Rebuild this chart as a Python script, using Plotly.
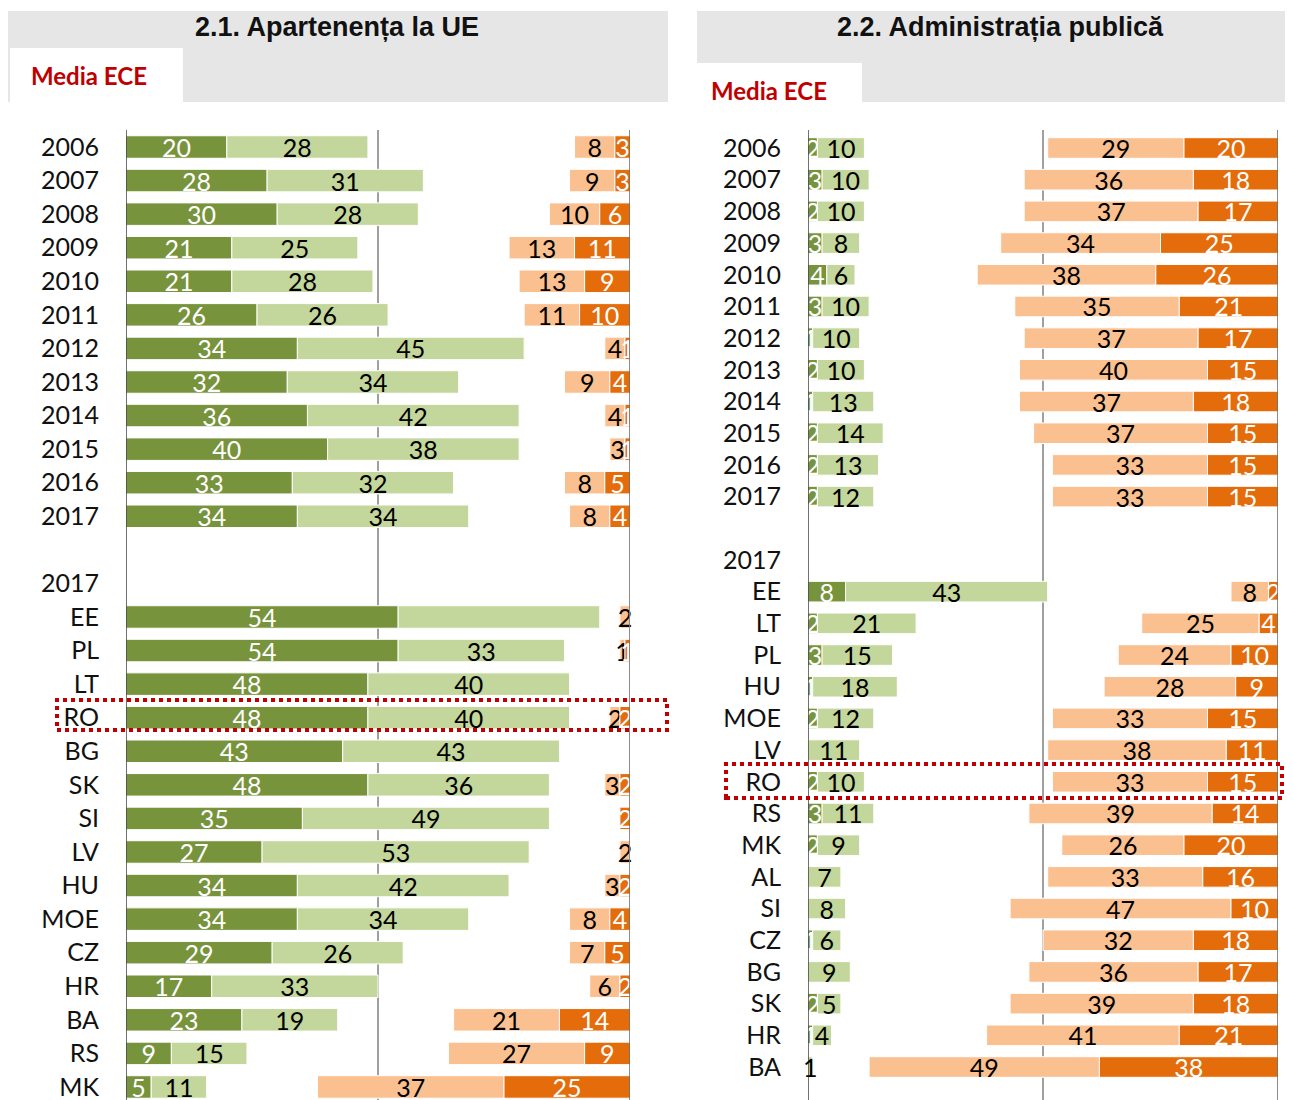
import plotly.graph_objects as go

# ---------------- DATA ----------------
years = ["2006", "2007", "2008", "2009", "2010", "2011", "2012", "2013", "2014", "2015", "2016", "2017"]
header_label = "2017"

# Panel 2.1 Apartenența la UE
L_countries = ["EE", "PL", "LT", "RO", "BG", "SK", "SI", "LV", "HU", "MOE", "CZ", "HR", "BA", "RS", "MK"]
L_dg_years = [20, 28, 30, 21, 21, 26, 34, 32, 36, 40, 33, 34]
L_lg_years = [28, 31, 28, 25, 28, 26, 45, 34, 42, 38, 32, 34]
L_lo_years = [8, 9, 10, 13, 13, 11, 4, 9, 4, 3, 8, 8]
L_do_years = [3, 3, 6, 11, 9, 10, 1, 4, 1, 1, 5, 4]
L_dg_countries = [54, 54, 48, 48, 43, 48, 35, 27, 34, 34, 29, 17, 23, 9, 5]
L_lg_countries = [40, 33, 40, 40, 43, 36, 49, 53, 42, 34, 26, 33, 19, 15, 11]
L_lo_countries = [2, 1, 0, 2, 0, 3, 0, 2, 3, 8, 7, 6, 21, 27, 37]
L_do_countries = [0, 1, 0, 2, 0, 2, 2, 0, 2, 4, 5, 2, 14, 9, 25]
L_lg_hidden_labels = ["EE"]  # label not printed in the original

# Panel 2.2 Administrația publică
R_countries = ["EE", "LT", "PL", "HU", "MOE", "LV", "RO", "RS", "MK", "AL", "SI", "CZ", "BG", "SK", "HR", "BA"]
R_dg_years = [2, 3, 2, 3, 4, 3, 1, 2, 1, 2, 2, 2]
R_lg_years = [10, 10, 10, 8, 6, 10, 10, 10, 13, 14, 13, 12]
R_lo_years = [29, 36, 37, 34, 38, 35, 37, 40, 37, 37, 33, 33]
R_do_years = [20, 18, 17, 25, 26, 21, 17, 15, 18, 15, 15, 15]
R_dg_countries = [8, 2, 3, 1, 2, 0, 2, 3, 2, 0, 0, 1, 0, 2, 1, 0]
R_lg_countries = [43, 21, 15, 18, 12, 11, 10, 11, 9, 7, 8, 6, 9, 5, 4, 1]
R_lo_countries = [8, 25, 24, 28, 33, 38, 33, 39, 26, 33, 47, 32, 36, 39, 41, 49]
R_do_countries = [2, 4, 10, 9, 15, 11, 15, 14, 20, 16, 10, 18, 17, 18, 21, 38]

titles = ["2.1. Apartenența la UE", "2.2. Administrația publică"]
subtitle = "Media ECE"

# ---------------- STYLE ----------------
W, H = 1293, 1100
OX, OY = 8, 8          # page body margin offset
C_DG, C_LG, C_LO, C_DO = "#77933c", "#c3d69b", "#fac090", "#e46c0a"
FONT = "Lato"
FS = 25
PLOT_TOP_PX = 130      # screen pixels
ydom_top = 1 - (PLOT_TOP_PX - OY) / H


def px_x(p):
    return (p - OX) / W


def px_y(p):
    return 1 - (p - OY) / H


fig = go.Figure()


def add_panel(xa, ya, cats, dg_y, lg_y, lo_y, do_y, dg_c, lg_c, lo_c, do_c, hidden_lg=(), bw=0.66):
    ypos = list(range(len(years))) + [len(years) + 2 + i for i in range(len(cats))]
    dg = dg_y + dg_c
    lg = lg_y + lg_c
    lo = lo_y + lo_c
    do = do_y + do_c
    names = years + cats
    is_country = [False] * len(years) + [True] * len(cats)

    def lab(vals, hidden=()):
        out = []
        for v, n, c in zip(vals, names, is_country):
            out.append("" if (v == 0 or (c and n in hidden)) else str(v))
        return out

    common = dict(orientation="h", xaxis=xa, yaxis=ya, textposition="inside",
                  insidetextanchor="middle", constraintext="none", textangle=0,
                  cliponaxis=False, hoverinfo="skip", showlegend=False, width=bw)
    fig.add_trace(go.Bar(y=ypos, x=dg, base=[0] * len(dg),
                         marker=dict(color=C_DG, line=dict(color="white", width=1)),
                         text=lab(dg), textfont=dict(color="white", size=FS, family=FONT), **common))
    fig.add_trace(go.Bar(y=ypos, x=lg, base=dg,
                         marker=dict(color=C_LG, line=dict(color="white", width=1)),
                         text=lab(lg, hidden_lg), textfont=dict(color="black", size=FS, family=FONT), **common))
    fig.add_trace(go.Bar(y=ypos, x=lo, base=[100 - a - b for a, b in zip(lo, do)],
                         marker=dict(color=C_LO, line=dict(color="white", width=1)),
                         text=lab(lo), textfont=dict(color="black", size=FS, family=FONT), **common))
    fig.add_trace(go.Bar(y=ypos, x=do, base=[100 - b for b in do],
                         marker=dict(color=C_DO, line=dict(color="white", width=1)),
                         text=lab(do), textfont=dict(color="white", size=FS, family=FONT), **common))
    tickvals = list(range(len(years))) + [len(years) + 1] + [len(years) + 2 + i for i in range(len(cats))]
    ticktext = years + [header_label] + cats
    return tickvals, ticktext


tv1, tt1 = add_panel("x", "y", L_countries, L_dg_years, L_lg_years, L_lo_years, L_do_years,
                     L_dg_countries, L_lg_countries, L_lo_countries, L_do_countries, L_lg_hidden_labels, 0.67)
tv2, tt2 = add_panel("x2", "y2", R_countries, R_dg_years, R_lg_years, R_lo_years, R_do_years,
                     R_dg_countries, R_lg_countries, R_lo_countries, R_do_countries, (), 0.65)

# row geometry (screen pixels) -> axis ranges
L_top_row_px, L_step = 147, 33.57
R_top_row_px, R_step = 148, 31.69
bottom_screen = H + OY
L_range = [(bottom_screen - L_top_row_px) / L_step, (PLOT_TOP_PX - L_top_row_px) / L_step]
R_range = [(bottom_screen - R_top_row_px) / R_step, (PLOT_TOP_PX - R_top_row_px) / R_step]

xcommon = dict(range=[0, 100], showgrid=False, zeroline=False, showticklabels=False, fixedrange=True)
ycommon = dict(domain=[0, ydom_top], showgrid=False, zeroline=False, ticks="", ticklabelstandoff=26,
               tickfont=dict(family=FONT, size=FS, color="#111111"), fixedrange=True)

fig.update_layout(
    width=W, height=H, margin=dict(l=0, r=0, t=0, b=0),
    paper_bgcolor="white", plot_bgcolor="white", barmode="overlay", showlegend=False,
    xaxis=dict(domain=[px_x(126), px_x(630)], anchor="y", **xcommon),
    xaxis2=dict(domain=[px_x(808), px_x(1278)], anchor="y2", **xcommon),
    yaxis=dict(anchor="x", range=L_range, tickmode="array", tickvals=tv1, ticktext=tt1, **ycommon),
    yaxis2=dict(anchor="x2", range=R_range, tickmode="array", tickvals=tv2, ticktext=tt2, **ycommon),
)

shapes = []
# header boxes
shapes.append(dict(type="rect", xref="paper", yref="paper", x0=px_x(8), x1=px_x(668), y0=px_y(102), y1=px_y(11),
                   fillcolor="#e6e6e6", line=dict(width=0), layer="below"))
shapes.append(dict(type="rect", xref="paper", yref="paper", x0=px_x(10), x1=px_x(183), y0=px_y(102), y1=px_y(48),
                   fillcolor="white", line=dict(width=0), layer="below"))
shapes.append(dict(type="rect", xref="paper", yref="paper", x0=px_x(697), x1=px_x(1293), y0=px_y(102), y1=px_y(11),
                   fillcolor="#e6e6e6", line=dict(width=0), layer="below"))
shapes.append(dict(type="rect", xref="paper", yref="paper", x0=px_x(697), x1=px_x(862), y0=px_y(102), y1=px_y(63),
                   fillcolor="white", line=dict(width=0), layer="below"))
# vertical lines
for xr in ["x", "x2"]:
    shapes.append(dict(type="line", xref=xr, yref="paper", x0=50, x1=50, y0=0, y1=ydom_top,
                       line=dict(color="#404040", width=1), layer="below"))
    shapes.append(dict(type="line", xref=xr, yref="paper", x0=0, x1=0, y0=0, y1=ydom_top,
                       line=dict(color="#111111", width=1.2), layer="above"))
    shapes.append(dict(type="line", xref=xr, yref="paper", x0=100, x1=100, y0=0, y1=ydom_top,
                       line=dict(color="#404040", width=1.2), layer="above"))
# highlight boxes around RO
shapes.append(dict(type="rect", xref="paper", yref="paper", x0=px_x(57), x1=px_x(667), y0=px_y(730), y1=px_y(700),
                   line=dict(color="#c00000", width=4, dash="dot"), fillcolor="rgba(0,0,0,0)", layer="above"))
shapes.append(dict(type="rect", xref="paper", yref="paper", x0=px_x(726), x1=px_x(1282), y0=px_y(798), y1=px_y(764),
                   line=dict(color="#c00000", width=4, dash="dot"), fillcolor="rgba(0,0,0,0)", layer="above"))
fig.update_layout(shapes=shapes)

annotations = [
    dict(text="<b>" + titles[0] + "</b>", xref="paper", yref="paper", x=px_x(337), y=px_y(27),
         xanchor="center", yanchor="middle", showarrow=False,
         font=dict(family="Liberation Sans", size=27, color="#111111")),
    dict(text="<b>" + titles[1] + "</b>", xref="paper", yref="paper", x=px_x(1000), y=px_y(27),
         xanchor="center", yanchor="middle", showarrow=False,
         font=dict(family="Liberation Sans", size=27, color="#111111")),
    dict(text="<b>" + subtitle + "</b>", xref="paper", yref="paper", x=px_x(29), y=px_y(76),
         xanchor="left", yanchor="middle", showarrow=False,
         font=dict(family=FONT, size=24, color="#c00000")),
    dict(text="<b>" + subtitle + "</b>", xref="paper", yref="paper", x=px_x(709), y=px_y(91),
         xanchor="left", yanchor="middle", showarrow=False,
         font=dict(family=FONT, size=24, color="#c00000")),
]
fig.update_layout(annotations=annotations)

fig.write_html("out.html")
